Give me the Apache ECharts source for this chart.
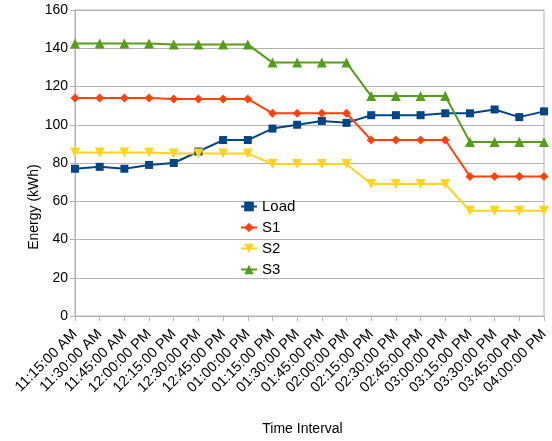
<!DOCTYPE html>
<html>
<head>
<meta charset="utf-8">
<script src="https://cdn.jsdelivr.net/npm/echarts@6/dist/echarts.min.js"></script>
<style>html,body{margin:0;padding:0;background:#fff}#c{width:552px;height:441px}</style>
</head>
<body>
<div id="c"></div>
<script>
const categories = ["11:15:00 AM","11:30:00 AM","11:45:00 AM","12:00:00 PM","12:15:00 PM","12:30:00 PM","12:45:00 PM","01:00:00 PM","01:15:00 PM","01:30:00 PM","01:45:00 PM","02:00:00 PM","02:15:00 PM","02:30:00 PM","02:45:00 PM","03:00:00 PM","03:15:00 PM","03:30:00 PM","03:45:00 PM","04:00:00 PM"];
const load = [77,78,77,79,80,86,92,92,98,100,102,101,105,105,105,106,106,108,104,107];
const s1 = [114,114,114,114,113.5,113.5,113.5,113.5,106,106,106,106,92,92,92,92,73,73,73,73];
const s2 = [85.5,85.5,85.5,85.5,85,85,85,85,79.5,79.5,79.5,79.5,69,69,69,69,55,55,55,55];
const s3 = [142.5,142.5,142.5,142.5,142,142,142,142,132.5,132.5,132.5,132.5,115,115,115,115,91,91,91,91];
const yTicks = {min:0, max:160, interval:20};

const font = '"Liberation Sans", Arial, sans-serif';
const gridColor = '#b3b3b3';
function mk(name, data, color, symbol, size) {
  return {name, type:'line', data, symbol, symbolSize:size, showSymbol:true,
    lineStyle:{color, width:2}, itemStyle:{color}, animation:false};
}
const chart = echarts.init(document.getElementById('c'), null, {renderer:'canvas'});
chart.setOption({
  backgroundColor:'#fff',
  textStyle:{fontFamily:font},
  grid:{left:75, right:8, top:10, bottom:125, show:true, borderColor:gridColor, borderWidth:1},
  legend:{orient:'vertical', left:235, top:194, itemWidth:16, itemHeight:12, itemGap:6,
    textStyle:{fontSize:15, color:'#000', fontFamily:font},
    data:['Load','S1','S2','S3']},
  xAxis:{type:'category', data:categories, boundaryGap:false,
    name:'Time Interval', nameLocation:'middle', nameGap:106,
    nameTextStyle:{fontSize:14, color:'#000', fontFamily:font, padding:[0,14,0,0]},
    axisLine:{lineStyle:{color:gridColor}},
    axisTick:{show:true, length:5, lineStyle:{color:gridColor}},
    axisLabel:{interval:0, rotate:45, fontSize:14.5, color:'#000', fontFamily:font, margin:16},
    splitLine:{show:false}},
  yAxis:{type:'value', min:yTicks.min, max:yTicks.max, interval:yTicks.interval,
    name:'Energy (kWh)', nameLocation:'middle', nameGap:34, nameMoveOverlap:false,
    nameTextStyle:{fontSize:14, color:'#000', fontFamily:font, padding:[0,88,0,0]},
    axisLine:{show:true, lineStyle:{color:gridColor}},
    axisTick:{show:true, length:5, lineStyle:{color:gridColor}},
    axisLabel:{fontSize:14, color:'#000', fontFamily:font, margin:7},
    splitLine:{lineStyle:{color:gridColor}}},
  series:[
    mk('Load', load, '#004586', 'rect', 8),
    mk('S1', s1, '#ff420e', 'diamond', 9),
    mk('S2', s2, '#ffd320', 'path://M0,0 L10,0 L5,9 Z', 10),
    mk('S3', s3, '#579d1c', 'triangle', 10)
  ]
});
</script>
</body>
</html>
